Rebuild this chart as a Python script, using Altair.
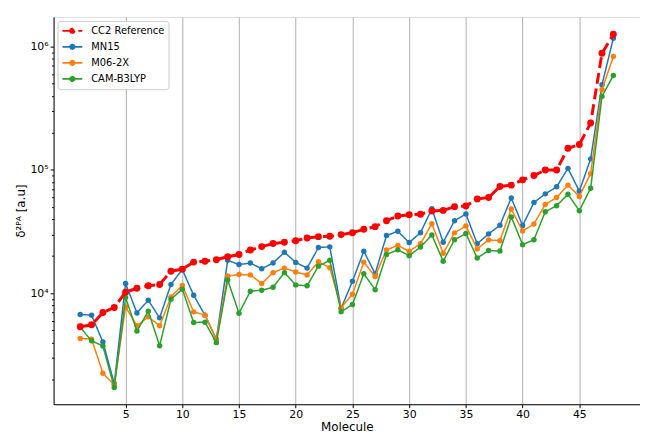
import altair as alt
import pandas as pd

molecules = list(range(1, 49))

cc2 = [5350, 5550, 6980, 7670, 10200, 11000, 11500, 11800, 15100, 15700,
       17900, 18200, 18700, 19800, 20600, 22400, 23900, 25300, 25900, 26700,
       28100, 28800, 29000, 29900, 31000, 33000, 34700, 38800, 42300, 43400,
       43800, 46400, 47000, 50400, 51000, 58100, 59800, 73400, 75300, 83100,
       90000, 100000, 100000, 150000, 161000, 240000, 883000, 1260000]

mn15 = [6730, 6650, 4030, 1850, 12000, 6930, 8790, 6320, 11800, 15600,
        9630, 6650, 4240, 18500, 17100, 17600, 15800, 17600, 21500, 17800,
        16000, 23500, 23800, 7530, 12500, 21900, 14400, 29400, 31800, 25800,
        31000, 48500, 25900, 38800, 44000, 25200, 30300, 35600, 59200, 35400,
        54500, 64000, 73000, 103000, 67300, 123000, 491000, 1170000]

m062x = [4310, 4250, 2250, 1810, 7740, 5450, 6440, 5450, 9340, 11600,
         7070, 6650, 4240, 13800, 14200, 14100, 12000, 14700, 16000, 14900,
         14100, 18000, 16100, 7670, 9810, 17900, 13700, 22500, 24400, 21900,
         25200, 36600, 21100, 30900, 35200, 22900, 27100, 26700, 48200, 32000,
         36500, 52500, 59800, 75300, 61000, 93300, 448000, 830000]

camb3lyp = [5300, 4120, 3740, 1720, 9230, 4940, 7160, 3760, 8950, 10800,
            5800, 5830, 3980, 12800, 6900, 10400, 10600, 11200, 14700, 11700,
            11500, 16600, 18500, 7070, 8110, 14400, 10700, 20600, 22500, 20200,
            23700, 29700, 18200, 27200, 30500, 19300, 22200, 22000, 41600, 24800,
            27200, 45800, 51300, 63600, 46700, 71100, 395000, 583000]

series_names = ["CC2 Reference", "MN15", "M06-2X", "CAM-B3LYP"]
series_values = [cc2, mn15, m062x, camb3lyp]
colors = ["#ff0000", "#1f77b4", "#ff7f0e", "#2ca02c"]
dashes = [[11, 5], [1, 0], [1, 0], [1, 0]]

x_ticks = [5, 10, 15, 20, 25, 30, 35, 40, 45]
y_ticks = [m * 10 ** e for e in (3, 4, 5) for m in range(1, 10) if m * 10 ** e >= 2000] + [1000000]

rows = []
for name, vals in zip(series_names, series_values):
    for m, v in zip(molecules, vals):
        rows.append({"molecule": m, "value": v, "series": name})
df = pd.DataFrame(rows)

color_scale = alt.Scale(domain=series_names, range=colors)
dash_scale = alt.Scale(domain=series_names, range=dashes)

legend_path = "M-2,0L2,0M0.45,0A0.45,0.45,0,1,1,-0.45,0A0.45,0.45,0,1,1,0.45,0Z"
legend = alt.Legend(
    title=None, orient="top-left", offset=4, padding=4, rowPadding=4.2,
    symbolType=legend_path, symbolSize=100, symbolStrokeWidth=1.7,
    symbolOffset=5, labelOffset=13, labelFontSize=10, labelFont="DejaVu Sans",
    labelColor="black", fillColor="white", strokeColor="#cccccc", cornerRadius=3,
)

x_enc = alt.X("molecule:Q", title="Molecule",
              scale=alt.Scale(domain=[-1.35, 50.35], nice=False, zero=False),
              axis=alt.Axis(values=x_ticks, grid=True, gridColor="#b0b0b0", gridWidth=1,
                            tickSize=3.5, tickColor="black", domainColor="black",
                            labelFontSize=11, labelColor="black", labelPadding=1,
                            titleFontSize=12, titleFontWeight="normal", titleColor="black",
                            titlePadding=2, labelFont="DejaVu Sans", titleFont="DejaVu Sans"))

major_test = "datum.value == 10000 || datum.value == 100000 || datum.value == 1000000"
y_enc = alt.Y("value:Q", title="δ²ᴾᴬ [a.u]",
              scale=alt.Scale(type="log", domain=[1260, 1740000], nice=False),
              axis=alt.Axis(values=y_ticks, grid=False,
                            labelExpr="datum.value == 10000 ? '10⁴' : datum.value == 100000 ? '10⁵' : datum.value == 1000000 ? '10⁶' : ''",
                            tickSize={"condition": {"test": major_test, "value": 3.5}, "value": 2},
                            tickColor="black", domainColor="black",
                            labelFontSize=11, labelColor="black", labelPadding=2,
                            titleFontSize=12, titleFontWeight="normal", titleColor="black",
                            titlePadding=2, labelFont="DejaVu Sans", titleFont="DejaVu Sans"))

layers = []
draw_order = [1, 2, 3, 0]
for i in draw_order:
    name = series_names[i]
    sub = alt.Chart(df).transform_filter(alt.datum.series == name)
    is_ref = (i == 0)
    line = sub.mark_line(strokeWidth=3 if is_ref else 1.5,
                         strokeDash=[11, 5] if is_ref else [1, 0]).encode(
        x=x_enc, y=y_enc,
        color=alt.Color("series:N", scale=color_scale, legend=legend),
        strokeDash=alt.StrokeDash("series:N", scale=dash_scale, legend=legend),
    )
    pts = sub.mark_point(filled=True, opacity=1, size=49 if is_ref else 30).encode(
        x=x_enc, y=y_enc,
        color=alt.Color("series:N", scale=color_scale, legend=None),
    )
    layers += [line, pts]

chart = alt.layer(*layers).properties(
    width=592, height=391,
    autosize=alt.AutoSizeParams(type="none"),
    padding={"left": 46, "top": 7, "right": 0, "bottom": 27},
).configure_view(stroke="black", strokeWidth=1).configure(font="DejaVu Sans")

chart.save("out.html", embed_options={"renderer": "svg", "actions": False})
